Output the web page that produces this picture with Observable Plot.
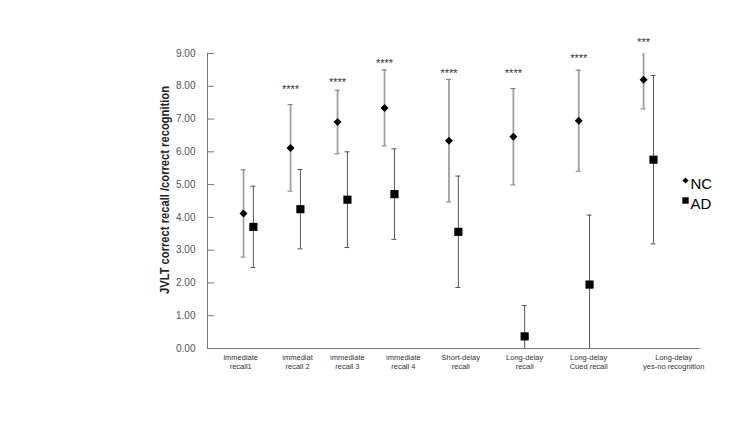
<!DOCTYPE html>
<html>
<head>
<meta charset="utf-8">
<script src="https://cdn.jsdelivr.net/npm/d3@7"></script>
<script src="https://cdn.jsdelivr.net/npm/@observablehq/plot@0.6"></script>
<style>
  html, body { margin: 0; padding: 0; background: #fff; }
  #chart { width: 750px; height: 422px; }
</style>
</head>
<body>
<div id="chart"></div>
<script>
// Categories (x-axis labels)
const categories = [
  "immediate\nrecall1", "immediat\nrecall 2", "immediate\nrecall 3", "immediate\nrecall 4",
  "Short-delay\nrecall", "Long-delay\nrecall", "Long-delay\nCued recall", "Long-delay\nyes-no recognition"
];
// Scatter x values (as in the original scatter chart)
const xNC = [1.0, 2.0, 3.0, 4.0, 5.37, 6.74, 8.13, 9.51];
const xAD = [1.21, 2.21, 3.21, 4.21, 5.57, 6.98, 8.36, 9.72];
const xLabel = [0.94, 2.15, 3.21, 4.40, 5.62, 6.98, 8.34, 10.15];
// Series values: means and standard deviations
const meanNC = [4.12, 6.12, 6.91, 7.34, 6.34, 6.46, 6.95, 8.20];
const sdNC   = [1.33, 1.32, 0.97, 1.16, 1.87, 1.47, 1.54, 0.89];
const meanAD = [3.71, 4.25, 4.54, 4.71, 3.56, 0.37, 1.95, 5.76];
const sdAD   = [1.24, 1.21, 1.46, 1.38, 1.70, 0.94, 2.12, 2.57];
// Significance markers
const stars = ["", "****", "****", "****", "****", "****", "****", "***"];
const starY = [null, 7.90, 8.11, 8.69, 8.39, 8.39, 8.85, 9.33];
// Axis ticks
const yTicks = [0, 1, 2, 3, 4, 5, 6, 7, 8, 9];
const yLabel = "JVLT correct recall /correct recognition";
const legendItems = ["NC", "AD"];

const nc = categories.map((c, i) => ({c, x: xNC[i], m: meanNC[i], lo: meanNC[i] - sdNC[i], hi: meanNC[i] + sdNC[i]}));
const ad = categories.map((c, i) => ({c, x: xAD[i], m: meanAD[i], lo: meanAD[i] - sdAD[i], hi: meanAD[i] + sdAD[i]}));
const starData = categories.map((c, i) => ({x: xNC[i], y: starY[i], t: stars[i]})).filter(d => d.t);
const labelData = categories.map((c, i) => ({x: xLabel[i], t: c}));

const X0 = 0.234, X1 = 10.72;
const font = "'Liberation Sans', Arial, sans-serif";

const chart = Plot.plot({
  width: 750,
  height: 422,
  marginLeft: 207,
  marginRight: 50,
  marginTop: 53,
  marginBottom: 74,
  style: {fontFamily: font, background: "#fff", overflow: "visible"},
  x: {type: "linear", domain: [X0, X1], axis: null},
  y: {domain: [0, 9], axis: null},
  marks: [
    // axes lines
    Plot.ruleX([X0], {stroke: "#777", strokeWidth: 1}),
    Plot.ruleY([0], {stroke: "#777", strokeWidth: 1}),
    // inward tick marks
    Plot.tickY(yTicks, {y: d => d, stroke: "#777", insetRight: 486}),
    // y tick labels
    Plot.axisY({ticks: yTicks, tickSize: 0, tickPadding: 12, tickFormat: d => d.toFixed(2),
      fontSize: 10, fill: "#555", label: null}),
    // y axis title
    Plot.text([yLabel], {text: d => d, frameAnchor: "left", textAnchor: "middle", rotate: -90, dx: -43, dy: -11,
      fontWeight: "bold", fontSize: 12.5, fill: "#222"}),
    // NC error bars
    Plot.ruleX(nc, {x: "x", y1: "lo", y2: "hi", stroke: "#a0a0a0", strokeWidth: 1.8, clip: true}),
    Plot.ruleY(nc, {y: "hi", x1: "x", x2: "x", insetLeft: -2.5, insetRight: -2.5, stroke: "#777", clip: true}),
    Plot.ruleY(nc, {y: "lo", x1: "x", x2: "x", insetLeft: -2.5, insetRight: -2.5, stroke: "#777", clip: true}),
    // AD error bars
    Plot.ruleX(ad, {x: "x", y1: "lo", y2: "hi", stroke: "#555", strokeWidth: 1, clip: true}),
    Plot.ruleY(ad, {y: "hi", x1: "x", x2: "x", insetLeft: -2.5, insetRight: -2.5, stroke: "#555", clip: true}),
    Plot.ruleY(ad, {y: "lo", x1: "x", x2: "x", insetLeft: -2.5, insetRight: -2.5, stroke: "#555", clip: true}),
    // points
    Plot.dot(nc, {x: "x", y: "m", symbol: "diamond2", r: 3.6, fill: "#000", stroke: "none"}),
    Plot.dot(ad, {x: "x", y: "m", symbol: "square", r: 4.6, fill: "#000", stroke: "none"}),
    // significance stars
    Plot.text(starData, {x: "x", y: "y", text: "t", fontSize: 11, fill: "#333", style: "letter-spacing:1.5px"}),
    // x labels
    Plot.text(labelData, {x: "x", y: () => 0, text: "t", lineAnchor: "top", dy: 5, fontSize: 7.5,
      lineHeight: 1.2, fill: "#333"}),
    // legend
    Plot.dot([legendItems[0]], {frameAnchor: "top-right", dx: -15, dy: 127, symbol: "diamond2", r: 2.8, fill: "#000"}),
    Plot.text([legendItems[0]], {text: d => d, frameAnchor: "top-right", dx: -10, dy: 125, textAnchor: "start", fontSize: 15, fill: "#000"}),
    Plot.dot([legendItems[1]], {frameAnchor: "top-right", dx: -15, dy: 147, symbol: "square", r: 3.6, fill: "#000"}),
    Plot.text([legendItems[1]], {text: d => d, frameAnchor: "top-right", dx: -10, dy: 145, textAnchor: "start", fontSize: 15, fill: "#000"})
  ]
});
// condense the y-axis title to the reference's narrow width
chart.querySelectorAll("text").forEach(t => {
  if (t.textContent === yLabel) {
    t.setAttribute("textLength", "208");
    t.setAttribute("lengthAdjust", "spacingAndGlyphs");
  }
});
document.getElementById("chart").appendChild(chart);
</script>
</body>
</html>
